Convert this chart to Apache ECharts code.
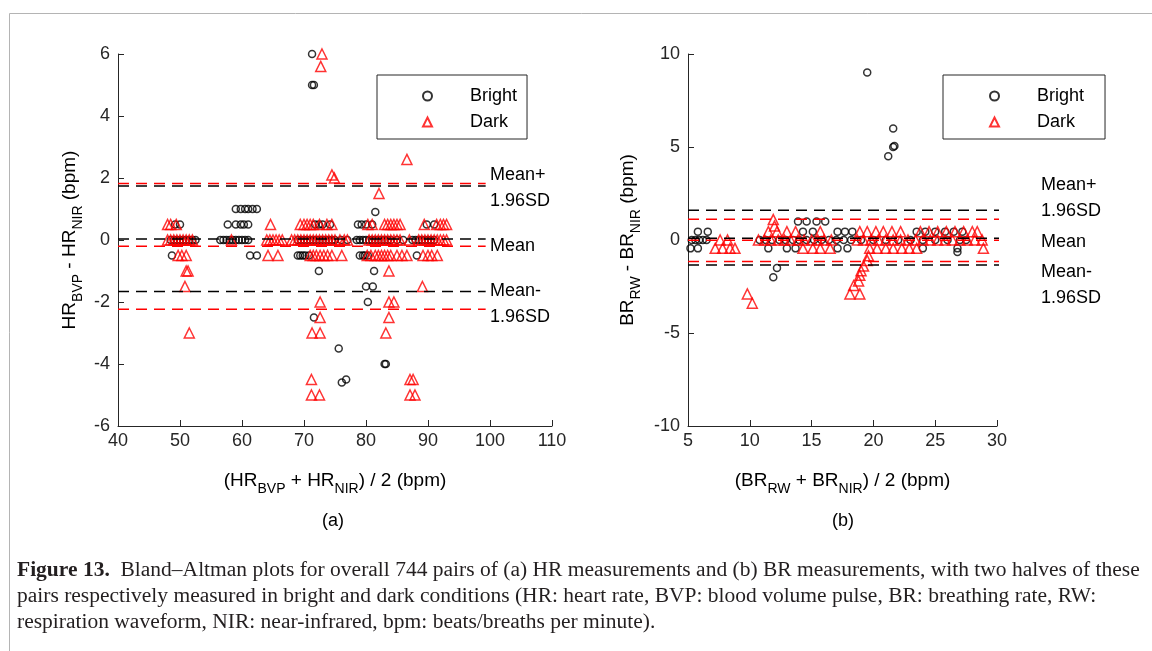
<!DOCTYPE html>
<html>
<head>
<meta charset="utf-8">
<title>Bland-Altman plots</title>
<script src="https://cdn.jsdelivr.net/npm/echarts@6.0.0/dist/echarts.min.js"></script>
<style>
    html, body { margin: 0; padding: 0; background: #fff; }
    #js_chartBa { width: 1152px; height: 651px; }
</style>
</head>
<body>
<div id="js_chartBa"></div>
<script>
// (a) HR - x values of the points sitting on each difference level
var hrLevels = [0, 0.5, -0.5, 1];
var hrBrightX0 = [48.5, 49, 49.5, 50, 50.5, 51, 51.5, 52, 52.5, 56.5, 57, 57.5, 58, 58.5, 59, 59.5, 60, 60.5, 61,
    69, 69.5, 70, 70.5, 71, 71.5, 72, 72.5, 73, 73.5, 74, 74.5, 75, 76, 77, 78.5, 79, 79.5, 80, 80.5, 81, 81.5,
    82, 82.5, 83, 83.5, 84, 85, 86, 87.5, 88, 88.5, 89, 89.5, 90, 90.5, 91];
var hrBrightXp05 = [49.2, 50, 57.7, 59, 59.8, 60.3, 61, 71.8, 72.4, 73, 74.2, 78.7, 79.3, 80, 81, 89.8, 91];
var hrBrightXm05 = [48.7, 61.3, 62.4, 69, 69.4, 69.8, 70.2, 70.8, 79, 79.5, 79.8, 80.3, 88.2];
var hrBrightXp1 = [59, 59.8, 60.5, 61, 61.7, 62.4];
var hrBrightOther = [[71.3, 6], [71.3, 5], [71.6, 5], [81.5, 0.9], [72.4, -1], [81.3, -1], [80, -1.5], [81.1, -1.5],
    [80.3, -2], [71.6, -2.5], [75.6, -3.5], [83, -4], [83.2, -4], [76.1, -4.6], [76.8, -4.5]];

var hrDarkX0 = [48, 48.5, 49, 49.5, 50, 50.5, 51, 51.5, 52, 58.3, 64, 64.5, 65, 65.5, 66, 66.5, 68, 68.5, 69, 69.5,
    70, 70.5, 71, 71.5, 72, 72.5, 73, 73.5, 74, 74.5, 75, 75.8, 76.5, 77, 80.5, 81, 81.5, 82, 82.5, 83, 83.5, 84,
    84.5, 85, 85.5, 87, 88.5, 89, 89.5, 90, 90.5, 91, 91.5, 92, 92.5, 93];
var hrDarkXp05 = [48, 48.5, 49.4, 64.6, 69.4, 70, 70.5, 71, 71.5, 72.5, 73.7, 74.5, 80.3, 81, 83, 83.5, 84, 84.5,
    85, 85.5, 89.4, 91.4, 92, 92.5, 93];
var hrDarkXm05 = [49.7, 50.3, 51, 64.2, 65.8, 71, 71.5, 72, 72.6, 73.2, 73.8, 74.5, 76.1, 80.2, 80.8, 81.5, 82,
    82.5, 83, 83.5, 84, 85, 85.8, 86.6, 89.2, 90, 90.6, 91.5];
var hrDarkXp1 = [];
var hrDarkOther = [[72.9, 6], [72.7, 5.6], [74.5, 2.1], [74.9, 2], [86.6, 2.6], [82.1, 1.5], [51, -1], [51.3, -1],
    [50.8, -1.5], [51.5, -3], [71.2, -4.5], [71.2, -5], [72.5, -5], [87.1, -4.5], [87.6, -4.5], [87.1, -5],
    [87.9, -5], [71.3, -3], [72.6, -3], [83.2, -3], [72.6, -2.5], [83.7, -2.5], [72.6, -2], [83.7, -2], [84.5, -2],
    [89.1, -1.5], [83.7, -1]];

// (a) HR - mean and mean +/- 1.96SD  [upper, mean, lower]
var hrBrightLimits = [1.74, 0.03, -1.66];
var hrDarkLimits = [1.82, -0.2, -2.23];
var hrLineX = [40, 99.3];

// (b) BR
var brLevels = [0, 0.45, -0.45, 1];
var brBrightX0 = [5.3, 5.6, 5.9, 6.2, 6.5, 10.8, 11.3, 11.8, 12.4, 12.9, 13.5, 14, 14.6, 15.2, 15.8, 16.4, 17, 17.6,
    18.2, 19, 20, 21, 22, 23, 24, 25, 26, 27, 27.5];
var brBrightXp05 = [5.8, 6.6, 14.3, 15.1, 17.1, 17.7, 18.3, 23.5, 24.2, 25, 25.8, 26.5, 27.2];
var brBrightXm05 = [5.2, 5.8, 11.5, 13, 13.7, 17.1, 17.9, 24, 26.8];
var brBrightXp1 = [13.9, 14.6, 15.4, 16.1];
var brBrightOther = [[12.2, -1.5], [11.9, -2], [19.5, 9], [21.6, 6], [21.6, 5], [21.7, 5.05], [21.2, 4.5],
    [26.8, -0.65]];

var brDarkX0 = [7.6, 8.2, 10.7, 11.2, 11.7, 12.3, 12.8, 13.3, 13.9, 14.4, 15, 15.5, 16, 16.6, 18.7, 19.2, 19.8,
    20.4, 21, 21.6, 22.2, 22.8, 23.4, 24, 24.6, 25.2, 25.8, 26.4, 27, 27.6, 28.2, 28.8];
var brDarkXp05 = [11.5, 12.2, 13, 13.7, 15.7, 18.9, 19.5, 20.2, 20.8, 21.5, 22.2, 23.8, 24.5, 25.2, 25.9, 26.6,
    27.3, 28, 28.4];
var brDarkXm05 = [7.2, 7.8, 8.4, 8.8, 14.3, 15.1, 15.7, 16.5, 19.7, 20.3, 21, 21.6, 22.3, 22.9, 23.5, 28.9];
var brDarkXp1 = [];
var brDarkOther = [[11.9, 1.1], [12, 0.75], [9.8, -2.9], [10.2, -3.4], [19.6, -0.85], [19.5, -1.1], [19.2, -1.4],
    [19, -1.65], [18.9, -1.9], [18.8, -2.2], [18.4, -2.45], [18.1, -2.9], [18.9, -2.9]];

var brBrightLimits = [1.6, 0.1, -1.34];
var brDarkLimits = [1.12, -0.02, -1.16];
var brLineX = [5, 32.7];

// axis ticks [min, max, interval]
var hrXTicks = [40, 110, 10];
var hrYTicks = [-6, 6, 2];
var brXTicks = [5, 30, 5];
var brYTicks = [-10, 10, 5];

var FONT = 'Liberation Sans, Arial, sans-serif';
var SERIF = 'Liberation Serif, serif';
var AXIS_COLOR = '#262626';

function collect(levels, rows, other) {
    var pts = [];
    for (var i = 0; i < rows.length; i++) {
        for (var j = 0; j < rows[i].length; j++) {
            pts.push([rows[i][j], levels[i]]);
        }
    }
    return pts.concat(other);
}

var subRich = {
    n: { fontSize: 19, lineHeight: 30, color: '#000', fontFamily: FONT },
    s: { fontSize: 14, lineHeight: 16, verticalAlign: 'bottom', color: '#000', fontFamily: FONT }
};

function makeXAxis(idx, ticks, name) {
    return {
        gridIndex: idx, type: 'value', min: ticks[0], max: ticks[1], interval: ticks[2],
        name: name, nameLocation: 'middle', nameGap: 40,
        nameTextStyle: { rich: subRich },
        axisLine: { show: true, onZero: false, lineStyle: { color: AXIS_COLOR, width: 1 } },
        axisTick: { show: true, inside: true, length: 6, lineStyle: { color: AXIS_COLOR } },
        axisLabel: { fontSize: 18, color: AXIS_COLOR, margin: 6, fontFamily: FONT },
        splitLine: { show: false }
    };
}

function makeYAxis(idx, ticks, name, gap) {
    return {
        gridIndex: idx, type: 'value', min: ticks[0], max: ticks[1], interval: ticks[2],
        name: name, nameLocation: 'middle', nameGap: gap, nameRotate: 90,
        nameTextStyle: { rich: subRich },
        axisLine: { show: true, onZero: false, lineStyle: { color: AXIS_COLOR, width: 1 } },
        axisTick: { show: true, inside: true, length: 6, lineStyle: { color: AXIS_COLOR } },
        axisLabel: { fontSize: 18, color: AXIS_COLOR, margin: 8, fontFamily: FONT },
        splitLine: { show: false }
    };
}

function brightSeries(idx, data) {
    return {
        name: 'Bright', type: 'scatter', xAxisIndex: idx, yAxisIndex: idx, data: data,
        symbol: 'circle', symbolSize: 7, z: 2,
        itemStyle: { color: 'rgba(255,255,255,0)', borderColor: '#000', borderWidth: 1.5 }
    };
}

function darkSeries(idx, data) {
    return {
        name: 'Dark', type: 'scatter', xAxisIndex: idx, yAxisIndex: idx, data: data,
        symbol: 'triangle', symbolSize: 10, z: 3,
        itemStyle: { color: 'rgba(255,255,255,0)', borderColor: '#ff0000', borderWidth: 1.5 }
    };
}

function limitSeries(idx, xs, limits, color) {
    var list = [];
    for (var i = 0; i < limits.length; i++) {
        list.push({
            name: 'limit', type: 'line', xAxisIndex: idx, yAxisIndex: idx,
            data: [[xs[0], limits[i]], [xs[1], limits[i]]],
            symbol: 'none', clip: false, silent: true, z: 5,
            lineStyle: { color: color, width: 1.5, type: [11, 7] }
        });
    }
    return list;
}

function label(x, y, txt) {
    return {
        type: 'text', x: x, y: y,
        style: { text: txt, fontSize: 18, fontFamily: FONT, fill: '#000', verticalAlign: 'middle' }
    };
}

function captionLine(y, txt) {
    return {
        type: 'text', x: 17, y: y, scaleX: 1.075,
        style: {
            text: txt, fontSize: 20, fontFamily: SERIF, fill: '#231f20', verticalAlign: 'middle',
            rich: { b: { fontSize: 20, fontWeight: 'bold', fontFamily: SERIF, fill: '#231f20' } }
        }
    };
}

function legendAt(left, padding) {
    return {
        data: ['Bright', 'Dark'], left: left, top: 75, orient: 'vertical',
        itemWidth: 9, itemHeight: 9, itemGap: 8, padding: padding,
        borderColor: AXIS_COLOR, borderWidth: 1, borderRadius: 0, selectedMode: false,
        textStyle: { fontSize: 18, color: '#000', fontFamily: FONT, padding: [0, 0, 0, 33] }
    };
}

var hrBright = collect(hrLevels, [hrBrightX0, hrBrightXp05, hrBrightXm05, hrBrightXp1], hrBrightOther);
var hrDark = collect(hrLevels, [hrDarkX0, hrDarkXp05, hrDarkXm05, hrDarkXp1], hrDarkOther);
var brBright = collect(brLevels, [brBrightX0, brBrightXp05, brBrightXm05, brBrightXp1], brBrightOther);
var brDark = collect(brLevels, [brDarkX0, brDarkXp05, brDarkXm05, brDarkXp1], brDarkOther);

var caption1 = '{b|Figure 13.}  Bland\u2013Altman plots for overall 744 pairs of (a) HR measurements and (b) BR measurements, with two halves of these';
var caption2 = 'pairs respectively measured in bright and dark conditions (HR: heart rate, BVP: blood volume pulse, BR: breathing rate, RW:';
var caption3 = 'respiration waveform, NIR: near-infrared, bpm: beats/breaths per minute).';

var optionByBa = {
    backgroundColor: '#fff',
    animation: false,
    textStyle: { fontFamily: FONT },
    grid: [
        { left: 118, top: 54, width: 434, height: 372, outerBoundsMode: 'none' },
        { left: 688, top: 54, width: 309, height: 372, outerBoundsMode: 'none' }
    ],
    xAxis: [
        makeXAxis(0, hrXTicks, '{n|(HR}{s|BVP}{n| + HR}{s|NIR}{n|) / 2 (bpm)}'),
        makeXAxis(1, brXTicks, '{n|(BR}{s|RW}{n| + BR}{s|NIR}{n|) / 2 (bpm)}')
    ],
    yAxis: [
        makeYAxis(0, hrYTicks, '{n|HR}{s|BVP}{n| - HR}{s|NIR}{n| (bpm)}', 33),
        makeYAxis(1, brYTicks, '{n|BR}{s|RW}{n| - BR}{s|NIR}{n| (bpm)}', 45)
    ],
    legend: [legendAt(377, [12, 10, 8, 45]), legendAt(943, [12, 21, 8, 46])],
    series: [brightSeries(0, hrBright), darkSeries(0, hrDark), brightSeries(1, brBright), darkSeries(1, brDark)]
        .concat(limitSeries(0, hrLineX, hrBrightLimits, '#000'))
        .concat(limitSeries(0, hrLineX, hrDarkLimits, '#ff0000'))
        .concat(limitSeries(1, brLineX, brBrightLimits, '#000'))
        .concat(limitSeries(1, brLineX, brDarkLimits, '#ff0000')),
    graphic: [
        {
            type: 'rect', z: -10, silent: true,
            shape: { x: 9.5, y: 13.5, width: 1300, height: 800 },
            style: { fill: 'none', stroke: '#b4b4b4', lineWidth: 1 }
        },
        label(490, 175, 'Mean+'), label(490, 201, '1.96SD'), label(490, 246, 'Mean'),
        label(490, 291, 'Mean-'), label(490, 317, '1.96SD'),
        label(1041, 185, 'Mean+'), label(1041, 211, '1.96SD'), label(1041, 242, 'Mean'),
        label(1041, 272, 'Mean-'), label(1041, 298, '1.96SD'),
        {
            type: 'text', x: 333, y: 521,
            style: { text: '(a)', fontSize: 18, fontFamily: FONT, fill: '#000', align: 'center', verticalAlign: 'middle' }
        },
        {
            type: 'text', x: 843, y: 521,
            style: { text: '(b)', fontSize: 18, fontFamily: FONT, fill: '#000', align: 'center', verticalAlign: 'middle' }
        },
        captionLine(571, caption1),
        captionLine(597, caption2),
        captionLine(623, caption3)
    ]
};

var chartBa = echarts.init(document.getElementById('js_chartBa'));
chartBa.setOption(optionByBa, true);
window.onresize = function() {
    chartBa.resize();
};
</script>
</body>
</html>
